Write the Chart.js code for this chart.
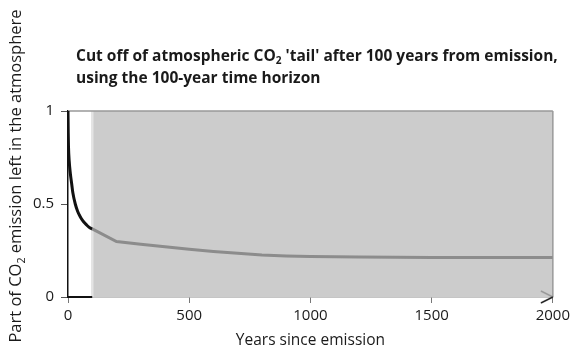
<!DOCTYPE html>
<html lang="en">
<head>
    <meta charset="UTF-8">
    <title>CO2 tail cut off</title>
    <script src="https://cdn.jsdelivr.net/npm/chart.js"></script>
    <style>
        html, body {
            margin: 0;
            padding: 0;
            background: #fff;
        }
        .chart-box {
            width: 574px;
            height: 352px;
        }
    </style>
</head>
<body>
    <div class="chart-box">
        <canvas id="tailChart" width="574" height="352"></canvas>
    </div>

    <script>
        // data
        const YEARS_KEPT = [0, 1, 2, 5, 10, 15, 20, 30, 40, 50, 60, 70, 80, 90, 100];
        const LEFT_KEPT = [1, 0.88, 0.81, 0.73, 0.66, 0.61, 0.56, 0.50, 0.46, 0.433, 0.412, 0.396, 0.383, 0.372, 0.366];
        const YEARS_CUT = [100, 200, 300, 400, 500, 600, 700, 800, 900, 1000, 1200, 1500, 2000];
        const LEFT_CUT = [0.366, 0.298, 0.284, 0.27, 0.257, 0.245, 0.235, 0.226, 0.221, 0.218, 0.215, 0.213, 0.212];
        const CUTOFF_YEAR = 100;
        const LAST_YEAR = 2000;
        const X_TICKS = [0, 500, 1000, 1500, 2000];
        const Y_TICKS = [0, 0.5, 1];

        // odd entries are drawn as subscript
        const TITLE_LINES = [
            ["Cut off of atmospheric CO", "2", " 'tail' after 100 years from emission,"],
            ["using the 100-year time horizon"]
        ];
        const Y_TITLE = ["Part of CO", "2", " emission left in the atmosphere"];
        const X_TITLE = "Years since emission";

        const FONT = "'Open Sans', 'DejaVu Sans', sans-serif";

        function pts(xs, ys) {
            return xs.map((x, i) => ({ x: x, y: ys[i] }));
        }

        // open arrow head for the end of the x axis
        function arrowHead() {
            const c = document.createElement('canvas');
            c.width = 26;
            c.height = 14;
            const g = c.getContext('2d');
            g.lineWidth = 1.5;
            g.strokeStyle = '#999';
            g.beginPath();
            g.moveTo(1, 1);
            g.lineTo(13, 7);
            g.stroke();
            g.strokeStyle = '#222';
            g.beginPath();
            g.moveTo(1, 13);
            g.lineTo(13, 7);
            g.stroke();
            return c;
        }

        // text with subscript pieces
        function drawPieces(ctx, pieces, x, y, size, weight) {
            let cx = x;
            pieces.forEach((t, i) => {
                const sub = i % 2 === 1;
                ctx.font = weight + ' ' + (sub ? size * 0.65 : size) + 'px ' + FONT;
                ctx.fillText(t, cx, sub ? y + size * 0.22 : y);
                cx += ctx.measureText(t).width;
            });
        }

        function piecesWidth(ctx, pieces, size, weight) {
            let w = 0;
            pieces.forEach((t, i) => {
                ctx.font = weight + ' ' + (i % 2 ? size * 0.65 : size) + 'px ' + FONT;
                w += ctx.measureText(t).width;
            });
            return w;
        }

        const titlePlugin = {
            id: 'titles',
            afterDraw(chart) {
                const ctx = chart.ctx;
                const area = chart.chartArea;
                ctx.save();
                ctx.fillStyle = '#1a1a1a';
                ctx.textBaseline = 'alphabetic';
                ctx.textAlign = 'left';
                TITLE_LINES.forEach((line, i) => {
                    drawPieces(ctx, line, area.left + 8, 61 + i * 22, 15.5, 'bold');
                });

                // y title, centred on the canvas height
                const size = 16.5;
                const w = piecesWidth(ctx, Y_TITLE, size, 'normal');
                ctx.translate(21, chart.height / 2 + w / 2);
                ctx.rotate(-Math.PI / 2);
                drawPieces(ctx, Y_TITLE, 0, 0, size, 'normal');
                ctx.restore();
            }
        };

        const ctx = document.getElementById('tailChart').getContext('2d');
        new Chart(ctx, {
            type: 'line',
            data: {
                datasets: [
                    {
                        // black part of the curve, kept in the count
                        data: pts(YEARS_KEPT, LEFT_KEPT),
                        borderColor: '#111',
                        borderWidth: 3,
                        cubicInterpolationMode: 'monotone',
                        pointRadius: 0,
                        order: 1
                    },
                    {
                        // grey part of the curve, cut off
                        data: pts(YEARS_CUT, LEFT_CUT),
                        borderColor: '#8c8c8c',
                        borderWidth: 3,
                        tension: 0,
                        pointRadius: 0,
                        order: 2
                    },
                    {
                        data: [{ x: 0, y: 0 }, { x: CUTOFF_YEAR, y: 0 }],
                        borderColor: '#111',
                        borderWidth: 2,
                        pointRadius: 0,
                        clip: false,
                        order: 3
                    },
                    {
                        data: [{ x: LAST_YEAR, y: 0 }],
                        showLine: false,
                        pointStyle: arrowHead(),
                        clip: false,
                        order: 3
                    },
                    {
                        // top border of the plot
                        data: [{ x: 0, y: 1 }, { x: LAST_YEAR, y: 1 }],
                        borderColor: '#999',
                        borderWidth: 1.5,
                        pointRadius: 0,
                        clip: false,
                        order: 4
                    },
                    {
                        data: [{ x: LAST_YEAR, y: 0 }, { x: LAST_YEAR, y: 1 }],
                        borderColor: '#999',
                        borderWidth: 1.5,
                        pointRadius: 0,
                        clip: false,
                        order: 4
                    },
                    {
                        data: [{ x: CUTOFF_YEAR, y: 0 }, { x: CUTOFF_YEAR, y: 1 }],
                        borderColor: '#e4e4e4',
                        borderWidth: 2.5,
                        pointRadius: 0,
                        clip: false,
                        order: 5
                    },
                    {
                        // shaded cut-off region
                        data: [{ x: CUTOFF_YEAR, y: 1 }, { x: LAST_YEAR, y: 1 }],
                        borderWidth: 0,
                        backgroundColor: '#cccccc',
                        fill: 'origin',
                        pointRadius: 0,
                        order: 6
                    }
                ]
            },
            options: {
                responsive: false,
                animation: false,
                layout: {
                    padding: { top: 111, right: 19, bottom: 0, left: 0 }
                },
                plugins: {
                    legend: { display: false },
                    tooltip: { enabled: false },
                    title: { display: false }
                },
                scales: {
                    x: {
                        type: 'linear',
                        min: 0,
                        max: LAST_YEAR,
                        afterBuildTicks: s => { s.ticks = X_TICKS.map(v => ({ value: v })); },
                        afterFit: s => { s.height = 55; },
                        border: { color: '#8c8c8c', width: 1.5 },
                        grid: {
                            drawOnChartArea: false,
                            drawTicks: true,
                            tickLength: 6,
                            tickColor: '#777'
                        },
                        ticks: {
                            padding: 4,
                            maxRotation: 0,
                            color: '#1a1a1a',
                            font: { family: FONT, size: 15 },
                            callback: v => String(v)
                        },
                        title: {
                            display: true,
                            text: X_TITLE,
                            color: '#1a1a1a',
                            padding: { top: 0, bottom: 2 },
                            font: { family: FONT, size: 15.5 }
                        }
                    },
                    y: {
                        min: 0,
                        max: 1,
                        afterBuildTicks: s => { s.ticks = Y_TICKS.map(v => ({ value: v })); },
                        afterFit: s => { s.width = 68; },
                        border: { color: '#111', width: 1.5 },
                        grid: {
                            drawOnChartArea: false,
                            drawTicks: true,
                            tickLength: 7,
                            tickColor: '#555'
                        },
                        ticks: {
                            padding: 7,
                            color: '#1a1a1a',
                            font: { family: FONT, size: 15 },
                            callback: v => String(v)
                        }
                    }
                }
            },
            plugins: [titlePlugin]
        });
    </script>
</body>
</html>
